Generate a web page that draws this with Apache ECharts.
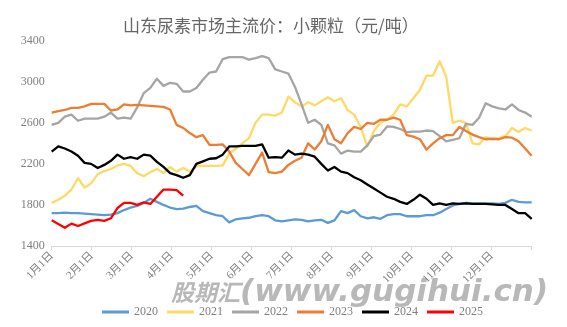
<!DOCTYPE html>
<html>
<head>
<meta charset="utf-8">
<script src="https://cdn.jsdelivr.net/npm/echarts@6/dist/echarts.min.js"></script>
<style>
html,body{margin:0;padding:0;background:#fff;}
#main{width:567px;height:327px;}
</style>
</head>
<body>
<div id="main"></div>
<script>
// Month tick labels (x axis)
const monthLabels = ['1月1日','2月1日','3月1日','4月1日','5月1日','6月1日','7月1日','8月1日','9月1日','10月1日','11月1日','12月1日'];
const yearNames = ['2020','2021','2022','2023','2024','2025'];
const yTicks = [1400, 1800, 2200, 2600, 3000, 3400];

// Sampled values, 74 points spread evenly across the year
const v2020 = [1720,1720,1725,1720,1720,1715,1710,1705,1700,1705,1720,1750,1775,1790,1820,1860,1830,1800,1775,1760,1765,1780,1790,1740,1720,1700,1690,1630,1660,1670,1675,1690,1700,1690,1650,1640,1650,1660,1655,1640,1650,1655,1625,1650,1740,1720,1750,1690,1670,1680,1665,1700,1710,1710,1690,1690,1690,1700,1700,1725,1760,1795,1810,1820,1815,1815,1815,1815,1810,1820,1850,1830,1825,1825];
const v2021 = [1820,1850,1890,1950,2060,1970,2010,2100,2130,2150,2185,2200,2180,2110,2080,2120,2150,2110,2170,2125,2160,2125,2175,2180,2180,2180,2185,2300,2350,2400,2450,2600,2680,2680,2670,2700,2855,2800,2760,2800,2770,2810,2850,2810,2840,2725,2680,2560,2370,2520,2600,2630,2680,2780,2760,2840,2920,3060,3060,3200,3050,2600,2620,2600,2400,2390,2460,2440,2450,2470,2550,2510,2550,2525];
const v2022 = [2580,2600,2660,2680,2620,2640,2640,2640,2660,2700,2640,2650,2640,2750,2890,2940,3030,2960,2990,2980,2905,2905,2940,3020,3090,3100,3220,3240,3240,3240,3215,3230,3250,3230,3120,3100,3080,2950,2780,2600,2630,2580,2400,2380,2300,2330,2320,2320,2380,2470,2485,2565,2560,2540,2510,2515,2515,2525,2520,2470,2420,2435,2450,2590,2580,2650,2790,2760,2740,2730,2780,2725,2700,2660];
const v2023 = [2700,2715,2725,2745,2745,2760,2785,2785,2785,2720,2730,2780,2770,2775,2770,2765,2760,2755,2730,2580,2550,2500,2460,2480,2385,2385,2390,2320,2210,2150,2090,2200,2310,2120,2110,2125,2190,2230,2260,2400,2340,2420,2580,2440,2400,2500,2560,2540,2600,2590,2630,2630,2650,2630,2480,2465,2440,2340,2400,2450,2480,2480,2560,2520,2485,2460,2440,2445,2440,2460,2455,2420,2350,2280];
const v2024 = [2320,2370,2350,2320,2280,2210,2200,2160,2190,2230,2290,2250,2265,2250,2290,2280,2220,2170,2110,2090,2065,2090,2200,2225,2250,2255,2290,2370,2370,2375,2375,2375,2390,2260,2265,2260,2330,2290,2300,2290,2270,2200,2135,2170,2125,2110,2070,2040,2000,1960,1920,1880,1860,1830,1810,1850,1900,1860,1800,1815,1800,1815,1810,1815,1810,1810,1810,1805,1800,1800,1760,1720,1720,1665];
const v2025 = [1650,1615,1578,1618,1595,1620,1645,1655,1645,1670,1770,1820,1820,1800,1825,1810,1880,1950,1950,1945,1890];

const seriesValues = [v2020, v2021, v2022, v2023, v2024, v2025];
const colors = ['#5B9BD5', '#FFD966', '#A5A5A5', '#ED7D31', '#000000', '#FF0000'];
const STEPS = 73; // intervals across the 12-month axis

const chart = echarts.init(document.getElementById('main'), null, {renderer: 'canvas'});

const series = yearNames.map((name, s) => ({
  name: name,
  type: 'line',
  showSymbol: false,
  symbol: 'none',
  smooth: false,
  lineStyle: {width: 2.3, color: colors[s], join: 'round'},
  itemStyle: {color: colors[s]},
  data: seriesValues[s].map((v, i) => [i * 12 / STEPS, v])
}));

const option = {
  animation: false,
  backgroundColor: '#ffffff',
  color: colors,
  title: {
    text: '山东尿素市场主流价：小颗粒（元/吨）',
    left: 118,
    top: 12,
    textStyle: {
      fontFamily: '"Noto Sans CJK SC", sans-serif',
      fontSize: 17,
      fontWeight: 'normal',
      color: '#666666'
    }
  },
  grid: {left: 51.7, right: 35.3, top: 40.7, bottom: 81},
  xAxis: {
    type: 'value',
    min: 0,
    max: 12,
    interval: 1,
    axisLine: {show: true, lineStyle: {color: '#d9d9d9', width: 1}},
    axisTick: {show: true, length: 4, lineStyle: {color: '#d9d9d9'}},
    splitLine: {show: false},
    axisLabel: {
      rotate: 45,
      margin: 8,
      color: '#7f7f7f',
      fontSize: 11,
      fontFamily: '"Liberation Serif", "Noto Sans CJK SC", serif',
      showMaxLabel: true,
      formatter: function (val) {
        const i = Math.round(val);
        return i < monthLabels.length ? monthLabels[i] : '';
      }
    }
  },
  yAxis: {
    type: 'value',
    min: yTicks[0],
    max: yTicks[yTicks.length - 1],
    interval: yTicks[1] - yTicks[0],
    axisLine: {show: false},
    axisTick: {show: false},
    splitLine: {show: false},
    axisLabel: {
      margin: 7,
      color: '#7f7f7f',
      fontSize: 12,
      fontFamily: '"Liberation Serif", serif',
      formatter: function (val) { return String(val); }
    }
  },
  legend: {
    data: yearNames,
    left: 97,
    top: 301,
    icon: 'rect',
    itemWidth: 27,
    itemHeight: 3,
    itemGap: 9,
    textStyle: {
      color: '#7f7f7f',
      fontSize: 12,
      fontFamily: '"Liberation Serif", serif'
    }
  },
  graphic: [{
    type: 'text',
    left: 171,
    top: 277,
    z: 0,
    silent: true,
    style: {
      text: '{a|股期汇}{b|(www.gugihui.cn)}',
      fill: '#b8b8b8',
      rich: {
        a: {fontFamily: '"Noto Sans CJK SC", sans-serif', fontSize: 23, fontWeight: 'bold', fontStyle: 'italic', fill: '#b8b8b8', verticalAlign: 'middle'},
        b: {fontFamily: '"DejaVu Sans", sans-serif', fontSize: 31, fontWeight: 'bold', fontStyle: 'italic', fill: '#b8b8b8', verticalAlign: 'middle'}
      }
    }
  }],
  series: series
};

chart.setOption(option);
</script>
</body>
</html>
